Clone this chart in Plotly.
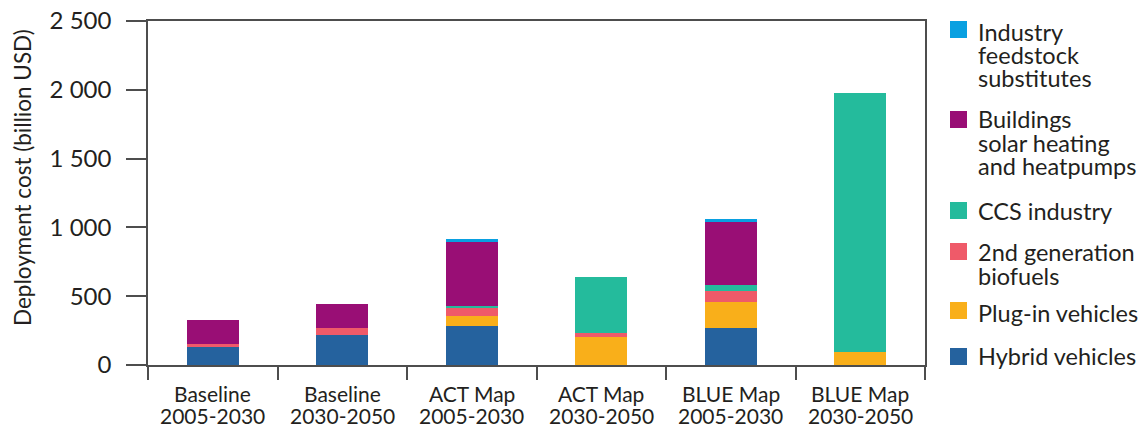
import plotly.graph_objects as go

# categories on the x axis (two text lines each)
scenario_names = ["Baseline", "Baseline", "ACT Map", "ACT Map", "BLUE Map", "BLUE Map"]
scenario_periods = ["2005-2030", "2030-2050", "2005-2030", "2030-2050", "2005-2030", "2030-2050"]
scenarios = [f"{n} {p}" for n, p in zip(scenario_names, scenario_periods)]

# stacked components, bottom to top (billion USD)
hybrid_vehicles = [130, 215, 280, 0, 267, 0]
plugin_vehicles = [0, 0, 73, 202, 189, 92]
biofuels_2nd_gen = [20, 51, 58, 29, 80, 0]
ccs_industry = [0, 0, 15, 407, 44, 1884]
buildings_solar = [175, 174, 465, 0, 458, 0]
industry_feedstock = [0, 0, 22, 0, 22, 0]

y_ticks = [0, 500, 1000, 1500, 2000, 2500]

series = [
    (["Hybrid vehicles"], hybrid_vehicles, "#25629E"),
    (["Plug-in vehicles"], plugin_vehicles, "#F9AF1A"),
    (["2nd generation", "biofuels"], biofuels_2nd_gen, "#EF5A69"),
    (["CCS industry"], ccs_industry, "#24BB9C"),
    (["Buildings", "solar heating", "and heatpumps"], buildings_solar, "#990E75"),
    (["Industry", "feedstock", "substitutes"], industry_feedstock, "#09A0E1"),
]

FONT = "Lato"
INK = "#231F20"
AXIS = "#4D4D4D"

# the page body has an 8px margin, so the figure starts at (8, 8) in the window
OFF = 8
W, H = 1148 - OFF, 427 - OFF
# plot box in window pixels: x 148..925, y 21..365
L, T = 148 - OFF, 21 - OFF
R = W - (925 - OFF)
B = H - (365 - OFF)
PH = H - T - B
PW = W - L - R


def py(pix):  # window pixel row -> paper y
    return (365 - pix) / PH


def px(pix):  # window pixel column -> paper x
    return (pix - 148) / PW


fig = go.Figure()
for lines, vals, col in series:
    fig.add_trace(go.Bar(
        x=scenarios, y=vals, name=" ".join(lines),
        marker=dict(color=col, line=dict(width=0)),
        width=0.4,
    ))

annotations = []
shapes = []

# category labels, one annotation per line
for s, n, p in zip(scenarios, scenario_names, scenario_periods):
    for txt, row in ((n, 393), (p, 415)):
        annotations.append(dict(
            x=s, xref="x", y=py(row), yref="paper", text=txt, showarrow=False,
            xanchor="center", yanchor="middle", font=dict(size=21, family=FONT, color=INK),
        ))

# y axis title
annotations.append(dict(
    x=px(22), y=py(178), xref="paper", yref="paper", text="Deployment cost (billion USD)",
    textangle=-90, showarrow=False, xanchor="center", yanchor="middle",
    font=dict(size=22.5, family=FONT, color=INK),
))

# legend (top to bottom): square top row, then text line centres
legend_rows = [
    (21, [31, 54.5, 77.5]),
    (111, [118.5, 141.5, 165]),
    (202, [210]),
    (243, [251, 274.5]),
    (302, [311.5]),
    (348, [355]),
]
for (lines, vals, col), (sq_top, rows) in zip(reversed(series), legend_rows):
    shapes.append(dict(
        type="rect", xref="paper", yref="paper",
        x0=px(950), x1=px(967), y0=py(sq_top), y1=py(sq_top + 17),
        fillcolor=col, line=dict(width=0),
    ))
    for txt, row in zip(lines, rows):
        annotations.append(dict(
            x=px(976), y=py(row + 1), xref="paper", yref="paper", text=txt,
            showarrow=False, xanchor="left", yanchor="middle",
            font=dict(size=23.5, family=FONT, color=INK),
        ))

fig.update_layout(
    barmode="stack",
    width=W, height=H,
    margin=dict(l=L, r=R, t=T, b=B),
    paper_bgcolor="white", plot_bgcolor="white",
    font=dict(family=FONT, color=INK, size=17),
    separators=". ",
    showlegend=False,
    annotations=annotations,
    shapes=shapes,
)

fig.update_xaxes(
    showline=True, linecolor=AXIS, linewidth=1.5, mirror=True,
    ticks="outside", tickson="boundaries", ticklen=13, tickcolor=AXIS, tickwidth=1.5,
    showticklabels=False, automargin=False,
)
fig.update_yaxes(
    range=[0, 2500], tickvals=y_ticks, tickformat=",",
    showline=True, linecolor=AXIS, linewidth=1.5, mirror=True,
    ticks="outside", ticklen=20, tickcolor=AXIS, tickwidth=1.5,
    ticklabelstandoff=10, ticklabeloverflow="allow",
    showgrid=False, zeroline=False, automargin=False,
    tickfont=dict(size=24, family=FONT, color=INK),
)

fig.write_html("out.html")
